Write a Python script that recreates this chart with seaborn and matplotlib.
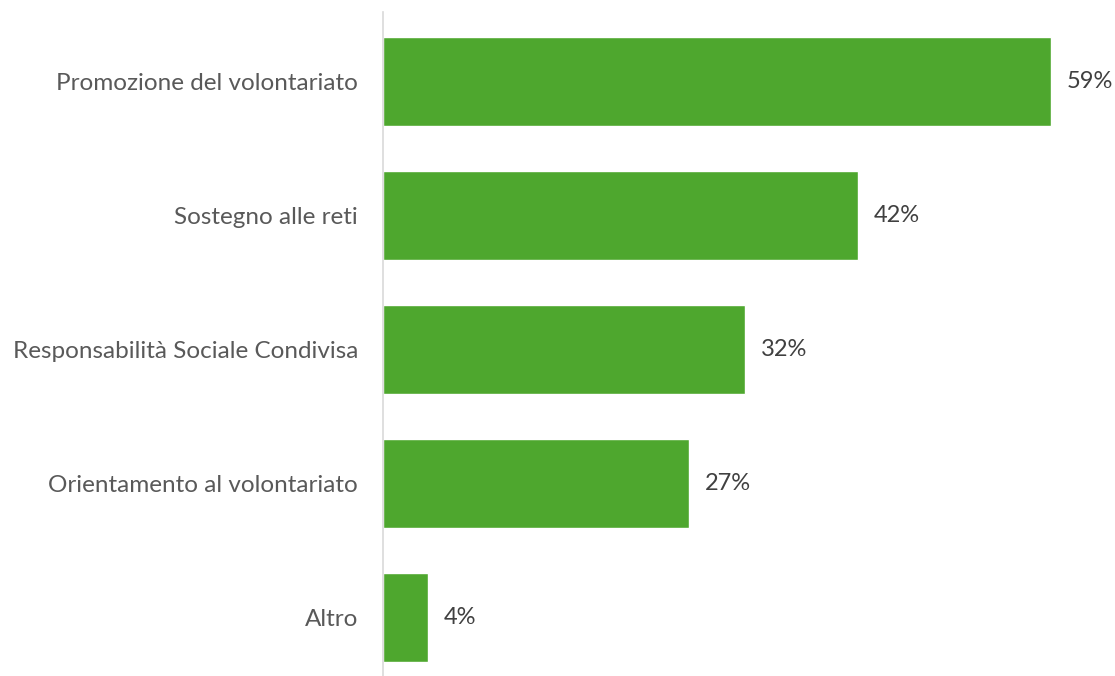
import matplotlib
matplotlib.use("Agg")
import matplotlib.pyplot as plt
import pandas as pd
import seaborn as sns

CATEGORIES = [
    "Promozione del volontariato",
    "Sostegno alle reti",
    "Responsabilità Sociale Condivisa",
    "Orientamento al volontariato",
    "Altro",
]
VALUES = [59, 42, 32, 27, 4]
VALUE_LABELS = ["59%", "42%", "32%", "27%", "4%"]

BAR_COLOR = "#4EA72E"
LABEL_COLOR = "#595959"
VALUE_COLOR = "#404040"

sns.set_theme(style="white")
plt.rcParams["font.family"] = ["Lato", "DejaVu Sans"]

df = pd.DataFrame({"category": CATEGORIES, "value": VALUES})

fig = plt.figure(figsize=(11.15, 6.76), dpi=100)
ax = fig.add_axes([383 / 1115, 0.0, 679 / 1115, 664 / 676])

sns.barplot(data=df, x="value", y="category", color=BAR_COLOR,
            width=0.664, saturation=1, ax=ax)

ax.set_xlim(0, 60)
ax.set_ylim(4.437, -0.519)
ax.set_xlabel("")
ax.set_ylabel("")
ax.set_xticks([])
ax.tick_params(axis="y", length=0, pad=18, labelsize=17.5, labelcolor=LABEL_COLOR)

for s in ["top", "right", "bottom"]:
    ax.spines[s].set_visible(False)
ax.spines["left"].set_color("#D9D9D9")
ax.spines["left"].set_linewidth(1.2)

# value labels to the right of each bar
for i, (v, lab) in enumerate(zip(VALUES, VALUE_LABELS)):
    ax.text(v + 1.4, i, lab, va="center", ha="left", fontsize=17,
            color=VALUE_COLOR, clip_on=False)

fig.savefig("out.png", dpi=100)
